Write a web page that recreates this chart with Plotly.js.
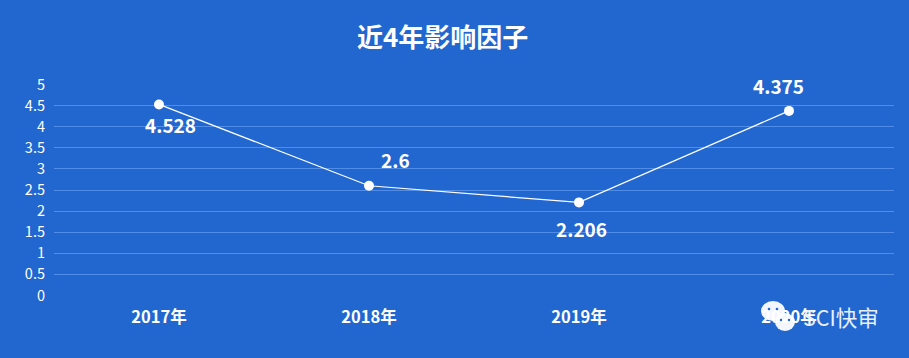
<!DOCTYPE html>
<html><head><meta charset="utf-8">
<script src="https://cdn.plot.ly/plotly-3.0.0.min.js"></script>
<style>html,body{margin:0;padding:0;background:#2167cf}</style></head>
<body><div id="c" style="width:909px;height:358px"></div>
<script>
const categories=["2017年","2018年","2019年","2020年"];
const values=[4.528,2.6,2.206,4.375];
const labels=["4.528","2.6","2.206","4.375"];
const ytickvals=[0,0.5,1,1.5,2,2.5,3,3.5,4,4.5,5];
const yticktext=["0","0.5","1","1.5","2","2.5","3","3.5","4","4.5","5"];
const labelOffsetX=[11,26,2,-11];
const labelOffsetY=[20,-26,26,-25];
const font='"Noto Sans CJK SC","Open Sans",sans-serif';
const W=909,H=358,L=54,R=15,T=84,B=62;
const px=(x)=>(x-L)/(W-L-R), py=(y)=>1-(y-T)/(H-T-B);
const oval=(cx,cy,rx,ry,color,op)=>({type:'circle',xref:'paper',yref:'paper',layer:'above',x0:px(cx-rx),x1:px(cx+rx),y0:py(cy+ry),y1:py(cy-ry),fillcolor:color,opacity:op,line:{width:0}});
const icon=[oval(773,311,12,10,'#ffffff',0.95),oval(769,309,1.3,1.3,'#2167cf',1),oval(777,309,1.3,1.3,'#2167cf',1),
 oval(785,322,10,9,'#ffffff',0.95),oval(781,320,1.2,1.2,'#2167cf',1),oval(789,320,1.2,1.2,'#2167cf',1)];
Plotly.newPlot('c',[{x:categories,y:values,mode:'lines+markers',line:{color:'#ffffff',width:1.2},marker:{color:'#ffffff',size:10},hoverinfo:'skip',cliponaxis:false}],{
width:W,height:H,paper_bgcolor:'#2167cf',plot_bgcolor:'#2167cf',showlegend:false,
margin:{l:L,r:R,t:T,b:B,pad:0},
title:{text:'<b>近4年影响因子</b>',x:0.487,xanchor:'center',y:0.895,yanchor:'middle',font:{family:font,size:26,color:'#fff'}},
xaxis:{type:'category',range:[-0.5,3.5],tickfont:{family:font,size:16.5,color:'#fff'},tickvals:categories,ticktext:categories.map(c=>'<b>'+c+'</b>'),showgrid:false,zeroline:false,showline:false,ticks:'',ticklabelstandoff:9},
yaxis:{range:[-0.0119,5.0119],tickvals:ytickvals,ticktext:yticktext,tickfont:{family:font,size:14.5,color:'#fff'},gridcolor:'#4f8de8',gridwidth:1,zeroline:false,ticks:'',ticklabelstandoff:8},
shapes:icon,
annotations:categories.map((c,i)=>({x:c,y:values[i],text:'<b>'+labels[i]+'</b>',showarrow:false,xshift:labelOffsetX[i],yshift:-labelOffsetY[i],font:{family:font,size:19,color:'#fff'}})).concat([
{xref:'paper',yref:'paper',x:px(881),y:py(316),xanchor:'right',yanchor:'middle',text:'SCI快审',showarrow:false,font:{family:font,size:21.5,color:'#e8f0fb'}}])
},{displayModeBar:false});
</script></body></html>
